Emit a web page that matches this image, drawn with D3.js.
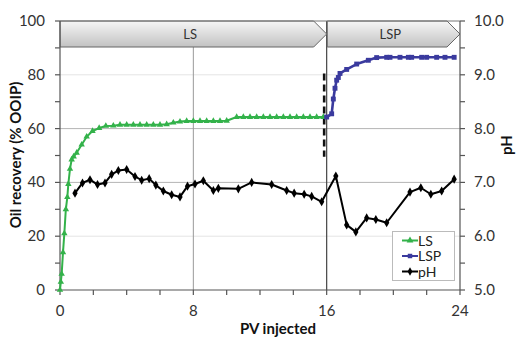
<!DOCTYPE html>
<html>
<head>
<meta charset="utf-8">
<style>
  body { margin: 0; background: #fff; }
  svg { font-family: Lato, "Open Sans", sans-serif; }
  .tick-label { font-size: 15px; fill: #333; }
  .axis-title { font-size: 15px; font-weight: bold; fill: #111; }
  .axis-line { stroke: #555; stroke-width: 1.2px; fill: none; }
</style>
</head>
<body>
<svg width="517" height="338"></svg>

<script src="https://cdn.jsdelivr.net/npm/d3@7"></script>
<script>

// LS flood: oil recovery (% OOIP) vs PV injected
var lsPV  = [0, 0.05, 0.1, 0.18, 0.26, 0.35, 0.44, 0.5, 0.6, 0.7, 0.82, 1.0, 1.3, 1.6, 1.95, 2.35, 2.75, 3.2, 3.6, 4.0, 4.4, 4.8, 5.2, 5.6, 6.0, 6.4, 6.8, 7.2, 7.6, 8.0, 8.4, 8.8, 9.2, 9.6, 10.0, 10.6, 11.0, 11.4, 11.8, 12.2, 12.6, 13.0, 13.4, 13.8, 14.2, 14.6, 15.0, 15.4, 15.8];
var lsRec = [0, 3, 6, 14, 21, 30, 34.5, 39.4, 45, 48.5, 49.6, 51, 54, 57, 59.1, 60.2, 61, 61.1, 61.4, 61.4, 61.4, 61.4, 61.4, 61.4, 61.4, 61.6, 62.2, 62.6, 62.8, 62.8, 62.8, 62.8, 62.8, 62.8, 62.9, 64.3, 64.3, 64.3, 64.3, 64.3, 64.3, 64.3, 64.3, 64.3, 64.3, 64.3, 64.3, 64.3, 64.3];

// LSP flood
var lspPV  = [16.0, 16.3, 16.4, 16.5, 16.6, 16.7, 16.8, 17.2, 17.8, 18.5, 19.0, 19.6, 19.8, 20.4, 20.9, 21.1, 21.7, 22.0, 22.6, 23.1, 23.65];
var lspRec = [64.3, 65.5, 71, 75, 78, 79, 80.5, 82, 84, 85.4, 86.4, 86.5, 86.5, 86.5, 86.5, 86.5, 86.5, 86.5, 86.5, 86.5, 86.5];

// effluent pH
var phPV  = [0.9, 1.35, 1.8, 2.25, 2.7, 3.1, 3.5, 4.0, 4.5, 4.9, 5.35, 5.75, 6.2, 6.7, 7.2, 7.65, 8.1, 8.6, 9.2, 9.5, 10.7, 11.5, 12.7, 13.6, 14.05, 14.65, 15.1, 15.7, 16.55, 17.2, 17.75, 18.4, 18.95, 19.6, 21.0, 21.65, 22.25, 22.9, 23.65];
var phVal = [6.80, 6.99, 7.05, 6.96, 6.99, 7.15, 7.22, 7.24, 7.11, 7.04, 7.07, 6.95, 6.84, 6.77, 6.73, 6.93, 6.97, 7.03, 6.85, 6.89, 6.88, 7.0, 6.96, 6.85, 6.80, 6.78, 6.74, 6.64, 7.12, 6.21, 6.08, 6.34, 6.31, 6.25, 6.82, 6.90, 6.78, 6.84, 7.06];

var xTicks = [0, 8, 16, 24];
var yTicks = [0, 20, 40, 60, 80, 100];
var phTicks = [5.0, 6.0, 7.0, 8.0, 9.0, 10.0];

var phases = ["LS", "LSP"];
var phaseStart = [0, 16];
var phaseEnd = [16, 24];

var svg = d3.select("svg");

var plotL = 60, plotR = 460, plotT = 21, plotB = 290;

var x = d3.scaleLinear().domain([0, 24]).range([plotL, plotR]);
var y = d3.scaleLinear().domain([0, 100]).range([plotB, plotT]);
var yPh = d3.scaleLinear().domain([5, 10]).range([plotB, plotT]);

// gradient for the phase banners
var grad = svg.append("defs").append("linearGradient")
    .attr("id", "band").attr("x1", 0).attr("y1", 0).attr("x2", 0).attr("y2", 1);
grad.append("stop").attr("offset", "0%").attr("stop-color", "#f6f6f6");
grad.append("stop").attr("offset", "100%").attr("stop-color", "#c2c2c2");

// horizontal grid
svg.append("g").selectAll("line")
    .data([20, 40, 60, 80])
    .enter().append("line")
    .attr("x1", plotL).attr("x2", plotR)
    .attr("y1", function(d) { return y(d); })
    .attr("y2", function(d) { return y(d); })
    .style("stroke", function(d) { return (d == 40 || d == 60) ? "#b4b4b4" : "#e4e4e4"; })
    .style("stroke-width", 1);

// vertical grid at 8 and 16
svg.append("line")
    .attr("x1", x(8)).attr("x2", x(8)).attr("y1", plotT).attr("y2", plotB)
    .style("stroke", "#999").style("stroke-width", 1);
svg.append("line")
    .attr("x1", x(16)).attr("x2", x(16)).attr("y1", plotT).attr("y2", plotB)
    .style("stroke", "#444").style("stroke-width", 1.2);

// phase banners (arrow shapes)
var bandTop = plotT, bandBot = 47, tip = 13;
var bands = svg.append("g");
phases.forEach(function(name, i) {
  var x0 = x(phaseStart[i]) + (i > 0 ? 0.6 : 0), x1 = x(phaseEnd[i]);
  var mid = (bandTop + bandBot) / 2;
  bands.append("path")
      .attr("d", "M" + x0 + "," + bandTop + "L" + (x1 - tip) + "," + bandTop +
                 "L" + x1 + "," + mid + "L" + (x1 - tip) + "," + bandBot +
                 "L" + x0 + "," + bandBot + "Z")
      .style("fill", "url(#band)")
      .style("stroke", "#666")
      .style("stroke-width", 1);
  bands.append("text")
      .attr("x", (x0 + x1 - tip / 2) / 2)
      .attr("y", mid + 4.5)
      .attr("text-anchor", "middle")
      .style("font-size", "13px")
      .style("fill", "#333")
      .text(name);
});

// top border line
svg.append("line")
    .attr("x1", plotL).attr("x2", plotR).attr("y1", plotT).attr("y2", plotT)
    .style("stroke", "#777").style("stroke-width", 1);

// dashed switch line
svg.append("line")
    .attr("x1", x(15.85)).attr("x2", x(15.85))
    .attr("y1", y(80.5)).attr("y2", y(49.5))
    .style("stroke", "#111")
    .style("stroke-width", 2.6)
    .style("stroke-dasharray", "7,4");

// axes
var axes = svg.append("g");
axes.append("line").attr("class", "axis-line")
    .attr("x1", plotL).attr("x2", plotL).attr("y1", plotT).attr("y2", plotB);
axes.append("line").attr("class", "axis-line")
    .attr("x1", plotR).attr("x2", plotR).attr("y1", plotT).attr("y2", plotB);
axes.append("line").attr("class", "axis-line")
    .attr("x1", plotL).attr("x2", plotR).attr("y1", plotB).attr("y2", plotB);

// ticks
axes.selectAll(".ly").data(d3.range(0, 101, 10)).enter().append("line")
    .attr("class", "axis-line")
    .attr("x1", plotL - 5).attr("x2", plotL)
    .attr("y1", function(d) { return y(d); }).attr("y2", function(d) { return y(d); });
axes.selectAll(".ry").data(d3.range(5, 10.01, 0.5)).enter().append("line")
    .attr("class", "axis-line")
    .attr("x1", plotR).attr("x2", plotR + 5)
    .attr("y1", function(d) { return yPh(d); }).attr("y2", function(d) { return yPh(d); });
axes.selectAll(".bx").data(d3.range(0, 24.01, 2)).enter().append("line")
    .attr("class", "axis-line")
    .attr("x1", function(d) { return x(d); }).attr("x2", function(d) { return x(d); })
    .attr("y1", plotB).attr("y2", plotB + 5);

// tick labels
axes.selectAll(".yl").data(yTicks).enter().append("text")
    .attr("class", "tick-label")
    .attr("x", plotL - 15).attr("y", function(d) { return y(d) + 5; })
    .attr("text-anchor", "end")
    .text(function(d) { return d; });
axes.selectAll(".pl").data(phTicks).enter().append("text")
    .attr("class", "tick-label")
    .attr("x", plotR + 14).attr("y", function(d) { return yPh(d) + 5; })
    .text(function(d) { return d.toFixed(1); });
axes.selectAll(".xl").data(xTicks).enter().append("text")
    .attr("class", "tick-label")
    .attr("x", function(d) { return x(d); }).attr("y", plotB + 26)
    .attr("text-anchor", "middle")
    .text(function(d) { return d; });

// axis titles
svg.append("text").attr("class", "axis-title")
    .attr("transform", "translate(21,155) rotate(-90)")
    .attr("text-anchor", "middle")
    .text("Oil recovery (% OOIP)");
svg.append("text").attr("class", "axis-title")
    .attr("transform", "translate(512,145) rotate(-90)")
    .attr("text-anchor", "middle")
    .text("pH");
svg.append("text").attr("class", "axis-title")
    .attr("x", 278).attr("y", 334)
    .attr("text-anchor", "middle")
    .text("PV injected");

// series
var lsColor = "#33b24a", lspColor = "#3a3a9e", phColor = "#000";

function drawSeries(xs, ys, yScale, color, width, symbol, size) {
  var pts = xs.map(function(d, i) { return [x(d), yScale(ys[i])]; });
  var g = svg.append("g");
  g.append("path")
      .attr("d", d3.line()(pts))
      .style("fill", "none")
      .style("stroke", color)
      .style("stroke-width", width)
      .style("stroke-linejoin", "round");
  g.selectAll("path.m").data(pts).enter().append("path")
      .attr("class", "m")
      .attr("transform", function(d) { return "translate(" + d[0] + "," + d[1] + ")"; })
      .attr("d", d3.symbol().type(symbol).size(size))
      .style("fill", color);
}

drawSeries(phPV, phVal, yPh, phColor, 2, d3.symbolDiamond, 24);
drawSeries(lsPV, lsRec, y, lsColor, 2, d3.symbolTriangle, 18);
drawSeries(lspPV, lspRec, y, lspColor, 2.6, d3.symbolSquare, 24);

// legend
var legend = svg.append("g");
legend.append("rect")
    .attr("x", 392.5).attr("y", 231.5).attr("width", 62).attr("height", 49)
    .style("fill", "#fff").style("stroke", "#bbb").style("stroke-width", 1);
var legNames = ["LS", "LSP", "pH"];
var legColors = [lsColor, lspColor, phColor];
var legSymbols = [d3.symbolTriangle, d3.symbolSquare, d3.symbolDiamond];
legNames.forEach(function(n, i) {
  var cy = 240.5 + i * 15.5;
  legend.append("line")
      .attr("x1", 402).attr("x2", 418).attr("y1", cy).attr("y2", cy)
      .style("stroke", legColors[i]).style("stroke-width", 2);
  legend.append("path")
      .attr("transform", "translate(410," + cy + ")")
      .attr("d", d3.symbol().type(legSymbols[i]).size(20))
      .style("fill", legColors[i]);
  legend.append("text")
      .attr("x", 418).attr("y", cy + 5)
      .style("font-size", "14px").style("fill", "#222")
      .text(n);
});

</script>
</body>
</html>
